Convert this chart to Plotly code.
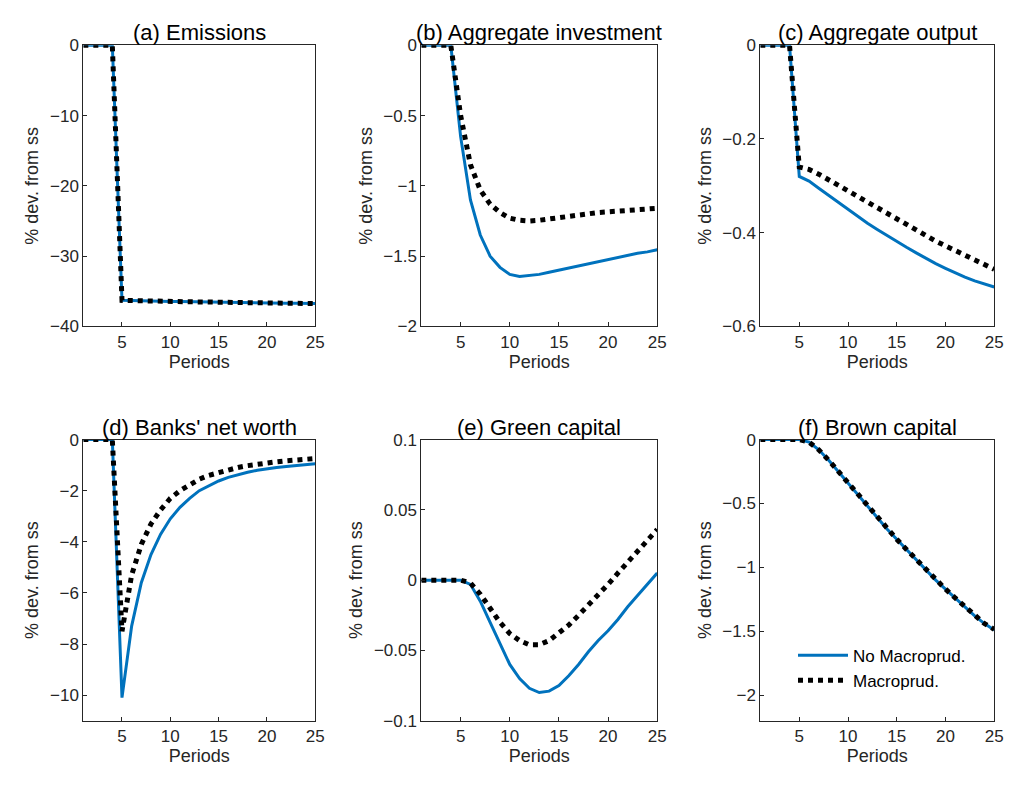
import plotly.graph_objects as go

periods = list(range(1, 26))

emis_blue = [0, 0, 0, 0, -36.3, -36.35, -36.38, -36.4, -36.42, -36.45, -36.47, -36.5, -36.52, -36.54, -36.56, -36.58, -36.6, -36.62, -36.64, -36.66, -36.68, -36.7, -36.72, -36.74, -36.76]
emis_black = emis_blue

inv_blue = [0, 0, 0, 0, -0.65, -1.1, -1.35, -1.5, -1.58, -1.63, -1.645, -1.64, -1.63, -1.615, -1.6, -1.58, -1.565, -1.55, -1.535, -1.52, -1.505, -1.49, -1.48, -1.47, -1.455]
inv_black = [0, 0, 0, 0, -0.5, -0.85, -1.03, -1.13, -1.19, -1.23, -1.245, -1.25, -1.245, -1.235, -1.225, -1.215, -1.205, -1.2, -1.19, -1.185, -1.18, -1.175, -1.17, -1.165, -1.16]

out_blue = [0, 0, 0, 0, -0.28, -0.29, -0.305, -0.32, -0.335, -0.35, -0.365, -0.38, -0.393, -0.406, -0.419, -0.431, -0.443, -0.455, -0.466, -0.476, -0.486, -0.495, -0.503, -0.51, -0.516]
out_black = [0, 0, 0, 0, -0.26, -0.265, -0.275, -0.287, -0.3, -0.312, -0.325, -0.337, -0.349, -0.361, -0.373, -0.385, -0.396, -0.407, -0.418, -0.428, -0.438, -0.448, -0.457, -0.467, -0.478]

nw_blue = [0, 0, 0, 0, -10.1, -7.3, -5.6, -4.5, -3.7, -3.1, -2.65, -2.3, -2.0, -1.8, -1.62, -1.48, -1.37, -1.28, -1.2, -1.14, -1.09, -1.05, -1.01, -0.98, -0.95]
nw_black = [0, 0, 0, 0, -7.5, -5.3, -4.1, -3.3, -2.75, -2.3, -2.0, -1.75, -1.55, -1.4, -1.28, -1.17, -1.09, -1.02, -0.96, -0.91, -0.87, -0.83, -0.8, -0.77, -0.74]

green_blue = [0, 0, 0, 0, 0, -0.003, -0.015, -0.03, -0.045, -0.06, -0.07, -0.077, -0.08, -0.079, -0.075, -0.068, -0.06, -0.051, -0.043, -0.036, -0.028, -0.019, -0.011, -0.003, 0.005]
green_black = [0, 0, 0, 0, 0, -0.002, -0.01, -0.02, -0.03, -0.038, -0.043, -0.046, -0.046, -0.043, -0.038, -0.032, -0.025, -0.018, -0.01, -0.003, 0.005, 0.013, 0.021, 0.029, 0.036]

brown_blue = [0, 0, 0, 0, 0, -0.02, -0.08, -0.16, -0.25, -0.34, -0.43, -0.52, -0.61, -0.7, -0.78, -0.86, -0.94, -1.02, -1.1, -1.17, -1.24, -1.31, -1.38, -1.44, -1.49]
brown_black = [0, 0, 0, 0, 0, -0.02, -0.08, -0.16, -0.25, -0.34, -0.43, -0.52, -0.61, -0.7, -0.78, -0.86, -0.94, -1.02, -1.1, -1.17, -1.24, -1.31, -1.38, -1.44, -1.485]

titles = ['(a) Emissions', '(b) Aggregate investment', '(c) Aggregate output',
          "(d) Banks' net worth", '(e) Green capital', '(f) Brown capital']
panels = [(emis_blue, emis_black), (inv_blue, inv_black), (out_blue, out_black),
          (nw_blue, nw_black), (green_blue, green_black), (brown_blue, brown_black)]
yranges = [[-40, 0], [-2, 0], [-0.6, 0], [-11, 0], [-0.1, 0.1], [-2.2, 0]]
ydticks = [10, 0.5, 0.2, 2, 0.05, 0.5]

W, H = 1018, 790
xpx = [(76, 310), (417, 655), (759, 995)]
ypx = [(29, 317), (433, 721)]
xdoms = [[a / W, b / W] for a, b in xpx]
ydoms = [[1 - b / H, 1 - a / H] for a, b in ypx]

font = dict(family='Liberation Sans, Arial, sans-serif', size=17, color='#262626')
fig = go.Figure()
layout = dict(width=W, height=H, margin=dict(l=0, r=0, t=0, b=0),
              plot_bgcolor='white', paper_bgcolor='white', font=font,
              showlegend=True,
              legend=dict(x=0.778, y=0.195, xanchor='left', yanchor='top',
                          bgcolor='rgba(255,255,255,0)', font=dict(size=17, color='black'),
                          itemwidth=50))
annotations = []
for i, (blue, black) in enumerate(panels):
    r, c = divmod(i, 3)
    ax = '' if i == 0 else str(i + 1)
    fig.add_trace(go.Scatter(x=periods, y=blue, mode='lines', name='No Macroprud.',
                             line=dict(color='#0072BD', width=3),
                             xaxis='x' + ax, yaxis='y' + ax, showlegend=(i == 5)))
    fig.add_trace(go.Scatter(x=periods, y=black, mode='lines', name='Macroprud.',
                             line=dict(color='black', width=5, dash='dot'),
                             xaxis='x' + ax, yaxis='y' + ax, showlegend=(i == 5)))
    axstyle = dict(showline=True, linecolor='#262626', linewidth=1, mirror=True,
                   ticks='inside', ticklen=4, tickcolor='#262626', showgrid=False,
                   zeroline=False, tickfont=dict(size=17))
    layout['xaxis' + ax] = dict(domain=xdoms[c], range=[1, 25], tickvals=[5, 10, 15, 20, 25],
                                anchor='y' + ax, title=dict(text='Periods', standoff=4,
                                font=dict(size=18)), **axstyle)
    layout['yaxis' + ax] = dict(domain=ydoms[r], range=yranges[i], dtick=ydticks[i],
                                anchor='x' + ax, title=dict(text='% dev. from ss', standoff=6,
                                font=dict(size=18)), **axstyle)
    annotations.append(dict(text=titles[i], x=sum(xdoms[c]) / 2, y=ydoms[r][1],
                            xref='paper', yref='paper', xanchor='center', yanchor='bottom',
                            showarrow=False, font=dict(size=22, color='black'), yshift=-2))
layout['annotations'] = annotations
fig.update_layout(**layout)
fig.write_html('out.html')
